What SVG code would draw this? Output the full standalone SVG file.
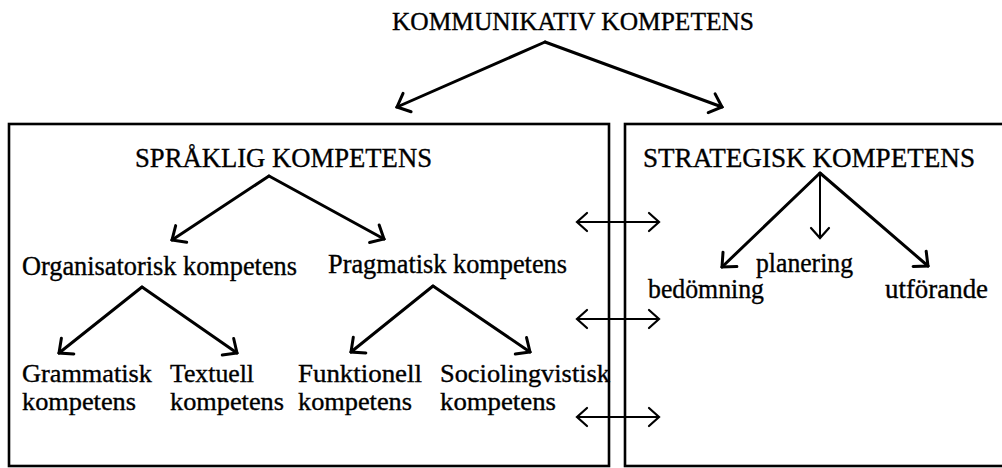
<svg xmlns="http://www.w3.org/2000/svg" width="1002" height="468" viewBox="0 0 1002 468">
<style>
text{font-family:"Liberation Serif","Times New Roman",serif;fill:#000;stroke:#000;stroke-width:0.35}
.t{font-size:25px}
.h{font-size:27px}
.n{font-size:27px}
.s{font-size:25px}
.box{fill:none;stroke:#000;stroke-width:2.6}
.c{fill:none;stroke:#000;stroke-width:3;stroke-linecap:round}
.m{fill:none;stroke:#000;stroke-width:2}
.d{fill:none;stroke:#000;stroke-width:2}
</style>
<defs>
<marker id="ah" viewBox="-14 -12 16 24" refX="0" refY="0" markerWidth="16" markerHeight="24" markerUnits="userSpaceOnUse" orient="auto">
<path d="M-11,-10 L0,0 L-11,10" fill="none" stroke="#000" stroke-width="3" stroke-linecap="round" stroke-linejoin="miter"/>
</marker>
<marker id="ad" viewBox="-14 -12 16 24" refX="0" refY="0" markerWidth="16" markerHeight="24" markerUnits="userSpaceOnUse" orient="auto-start-reverse">
<path d="M-10,-9 L0,0 L-10,9" fill="none" stroke="#000" stroke-width="2.2" stroke-linecap="round"/>
</marker>
</defs>
<rect fill="#fff" x="0" y="0" width="1002" height="468"/>

<g id="kommunikativ">
<text class="t" x="392" y="30" textLength="362" lengthAdjust="spacingAndGlyphs">KOMMUNIKATIV KOMPETENS</text>
</g>

<g id="spraklig-box">
<rect class="box" x="9" y="124" width="600" height="342"/>
</g>
<g id="strategisk-box">
<rect class="box" x="625" y="124" width="400" height="342"/>
</g>

<g id="spraklig">
<text class="h" x="135" y="167" textLength="297" lengthAdjust="spacingAndGlyphs">SPRÅKLIG KOMPETENS</text>
</g>
<g id="strategisk">
<text class="h" x="643" y="167" textLength="332" lengthAdjust="spacingAndGlyphs">STRATEGISK KOMPETENS</text>
</g>
<g id="organisatorisk">
<text class="n" x="22" y="275" textLength="275" lengthAdjust="spacingAndGlyphs">Organisatorisk kompetens</text>
</g>
<g id="pragmatisk">
<text class="n" x="328" y="273" textLength="239" lengthAdjust="spacingAndGlyphs">Pragmatisk kompetens</text>
</g>
<g id="grammatisk">
<text class="s" x="22" y="382" textLength="130" lengthAdjust="spacingAndGlyphs">Grammatisk</text>
<text class="s" x="22" y="410" textLength="114" lengthAdjust="spacingAndGlyphs">kompetens</text>
</g>
<g id="textuell">
<text class="s" x="170" y="382" textLength="84" lengthAdjust="spacingAndGlyphs">Textuell</text>
<text class="s" x="170" y="410" textLength="114" lengthAdjust="spacingAndGlyphs">kompetens</text>
</g>
<g id="funktionell">
<text class="s" x="298" y="382" textLength="124" lengthAdjust="spacingAndGlyphs">Funktionell</text>
<text class="s" x="298" y="410" textLength="114" lengthAdjust="spacingAndGlyphs">kompetens</text>
</g>
<g id="sociolingvistisk">
<text class="s" x="440" y="382" textLength="170" lengthAdjust="spacingAndGlyphs">Sociolingvistisk</text>
<text class="s" x="440" y="410" textLength="116" lengthAdjust="spacingAndGlyphs">kompetens</text>
</g>
<g id="planering">
<text class="n" x="756" y="272" textLength="97" lengthAdjust="spacingAndGlyphs">planering</text>
</g>
<g id="bedomning">
<text class="n" x="648" y="298" textLength="116" lengthAdjust="spacingAndGlyphs">bedömning</text>
</g>
<g id="utforande">
<text class="n" x="885" y="298" textLength="103" lengthAdjust="spacingAndGlyphs">utförande</text>
</g>

<g id="connectors">
<path class="c" d="M545,42 L397,107" marker-end="url(#ah)"/>
<path class="c" d="M545,42 L722,107" marker-end="url(#ah)"/>
<path class="c" d="M269,176 L172,240" marker-end="url(#ah)"/>
<path class="c" d="M269,176 L384,239" marker-end="url(#ah)"/>
<path class="c" d="M142,287 L59,353" marker-end="url(#ah)"/>
<path class="c" d="M142,287 L237,353" marker-end="url(#ah)"/>
<path class="c" d="M433,286 L351,352" marker-end="url(#ah)"/>
<path class="c" d="M433,286 L530,352" marker-end="url(#ah)"/>
<path class="c" d="M820,173 L722,267" marker-end="url(#ah)"/>
<path class="m" d="M820,173 L820,238" marker-end="url(#ad)"/>
<path class="c" d="M820,173 L928,266" marker-end="url(#ah)"/>
<path class="d" d="M577,222 L659,222" marker-start="url(#ad)" marker-end="url(#ad)"/>
<path class="d" d="M577,319 L659,319" marker-start="url(#ad)" marker-end="url(#ad)"/>
<path class="d" d="M577,417 L659,417" marker-start="url(#ad)" marker-end="url(#ad)"/>
</g>
</svg>
